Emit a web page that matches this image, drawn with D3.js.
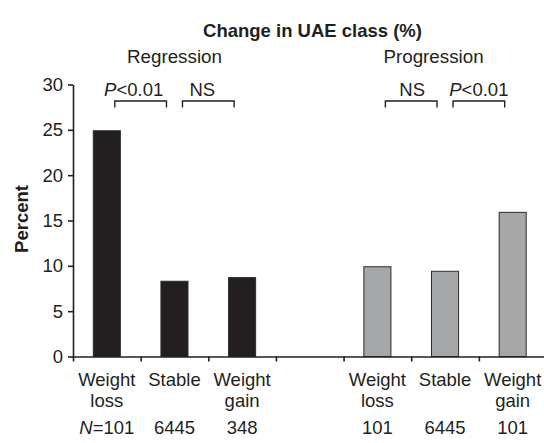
<!DOCTYPE html>
<html>
<head>
<meta charset="utf-8">
<script src="https://cdn.jsdelivr.net/npm/d3@7"></script>
<style>
  html, body { margin: 0; padding: 0; background: #fff; }
  svg { display: block; }
  text { font-family: "Liberation Sans", Arial, Helvetica, sans-serif; fill: #231f20; }
</style>
</head>
<body>
<script>
// Change in UAE class by weight-change group
const groups = ["Regression", "Progression"];
const categories = ["Weight loss", "Stable", "Weight gain"];
const regressionValues = [24.9, 8.3, 8.7];
const progressionValues = [9.9, 9.4, 15.9];
const regressionN = ["101", "6445", "348"];
const progressionN = ["101", "6445", "101"];
// Pairwise comparisons: [group, from category, to category, label]
const comparisons = [
  ["Regression", 0, 1, "P<0.01"],
  ["Regression", 1, 2, "NS"],
  ["Progression", 0, 1, "NS"],
  ["Progression", 1, 2, "P<0.01"]
];
const yTicks = [0, 5, 10, 15, 20, 25, 30];

const W = 544, H = 443;
const ink = "#231f20";
const fs = "18.5px";
const fills = { Regression: "#231f20", Progression: "#a6a7a9" };

const svg = d3.select("body").append("svg")
  .attr("width", W).attr("height", H);

// Slots along the x axis: three per group with an empty slot between groups
const slots = [];
groups.forEach((g, gi) => {
  categories.forEach((c, ci) => slots.push(g + "|" + ci));
  if (gi < groups.length - 1) slots.push("gap");
});
const slotKeys = slots.map((s, i) => s === "gap" ? "gap" + i : s);

const x0 = 73, x1 = 546.5;
const x = d3.scaleBand().domain(slotKeys).range([x0, x1])
  .paddingInner(0.6).paddingOuter(0.3);
const slotPos = d3.scaleLinear().domain([0, slotKeys.length]).range([x0, x1]);
const y = d3.scaleLinear().domain([0, 30]).range([356.5, 84.5]);

const valuesBy = { Regression: regressionValues, Progression: progressionValues };
const nBy = { Regression: regressionN, Progression: progressionN };
const bars = [];
groups.forEach(g => categories.forEach((c, ci) =>
  bars.push({ group: g, ci, key: g + "|" + ci, value: valuesBy[g][ci], n: nBy[g][ci] })));

const cx = k => x(k) + x.bandwidth() / 2;

// Bars
svg.append("g").selectAll("rect").data(bars).join("rect")
  .attr("x", d => x(d.key))
  .attr("width", x.bandwidth())
  .attr("y", d => y(d.value))
  .attr("height", d => y(0) - y(d.value))
  .attr("fill", d => fills[d.group])
  .attr("stroke", "#2b2b2b")
  .attr("stroke-width", 1);

// Y axis
const yAxis = svg.append("g")
  .attr("transform", `translate(${x0},0)`)
  .call(d3.axisLeft(y).tickValues(yTicks).tickSize(5).tickSizeOuter(0).tickPadding(5));
yAxis.select(".domain").attr("stroke", ink).attr("stroke-width", 1.6);
yAxis.selectAll(".tick line").attr("stroke", ink).attr("stroke-width", 1.6);
yAxis.selectAll(".tick text")
  .style("font-size", fs).attr("fill", ink)
  .style("font-family", '"Liberation Sans", Arial, sans-serif');

// X axis with ticks at slot boundaries
const xAxis = svg.append("g")
  .attr("transform", `translate(0,${y(0)})`)
  .call(d3.axisBottom(slotPos).tickValues(d3.range(slotKeys.length + 1))
    .tickSize(5).tickSizeOuter(0).tickFormat(""));
xAxis.select(".domain").attr("stroke", ink).attr("stroke-width", 1.6);
xAxis.selectAll(".tick line").attr("stroke", ink).attr("stroke-width", 1.6);

// Category labels (two lines) and group sizes
const lab = svg.append("g").style("font-size", fs).attr("text-anchor", "middle");
bars.forEach(b => {
  const words = categories[b.ci].split(" ");
  const t = lab.append("text").attr("x", cx(b.key)).attr("y", 386);
  words.forEach((w, i) => t.append("tspan").attr("x", cx(b.key)).attr("dy", i === 0 ? 0 : 21).text(w));
  const nt = lab.append("text").attr("x", cx(b.key)).attr("y", 434);
  if (b.group === groups[0] && b.ci === 0) {
    nt.append("tspan").attr("font-style", "italic").text("N");
    nt.append("tspan").text("=" + b.n);
  } else {
    nt.text(b.n);
  }
});

// Comparison brackets
const labelShift = [-7, -6, 1, 0];
comparisons.forEach(([g, a, b, label], i) => {
  const xa = cx(g + "|" + a) + 8, xb = cx(g + "|" + b) - 8;
  const top = 101, tip = 107.5;
  svg.append("path")
    .attr("d", `M${xa},${tip}V${top}H${xb}V${tip}`)
    .attr("fill", "none").attr("stroke", ink).attr("stroke-width", 1.4);
  const t = svg.append("text").attr("x", (xa + xb) / 2 + labelShift[i]).attr("y", 96)
    .attr("text-anchor", "middle").style("font-size", fs);
  if (label.startsWith("P")) {
    t.append("tspan").attr("font-style", "italic").text("P");
    t.append("tspan").text(label.slice(1));
  } else {
    t.text(label);
  }
});

// Group titles
const groupShift = { Regression: 0, Progression: -11.5 };
groups.forEach(g => {
  const mid = (x(g + "|0") + x(g + "|2") + x.bandwidth()) / 2;
  svg.append("text").attr("x", mid + groupShift[g]).attr("y", 63)
    .attr("text-anchor", "middle").style("font-size", "18.8px").text(g);
});

// Chart title
svg.append("text").attr("x", 312.5).attr("y", 37)
  .attr("text-anchor", "middle").style("font-size", "18.5px").style("font-weight", "bold")
  .text("Change in UAE class (%)");

// Y axis title
svg.append("text").attr("transform", "translate(27.5,219) rotate(-90)")
  .attr("text-anchor", "middle").style("font-size", "18.5px").style("font-weight", "bold")
  .text("Percent");
</script>
</body>
</html>
